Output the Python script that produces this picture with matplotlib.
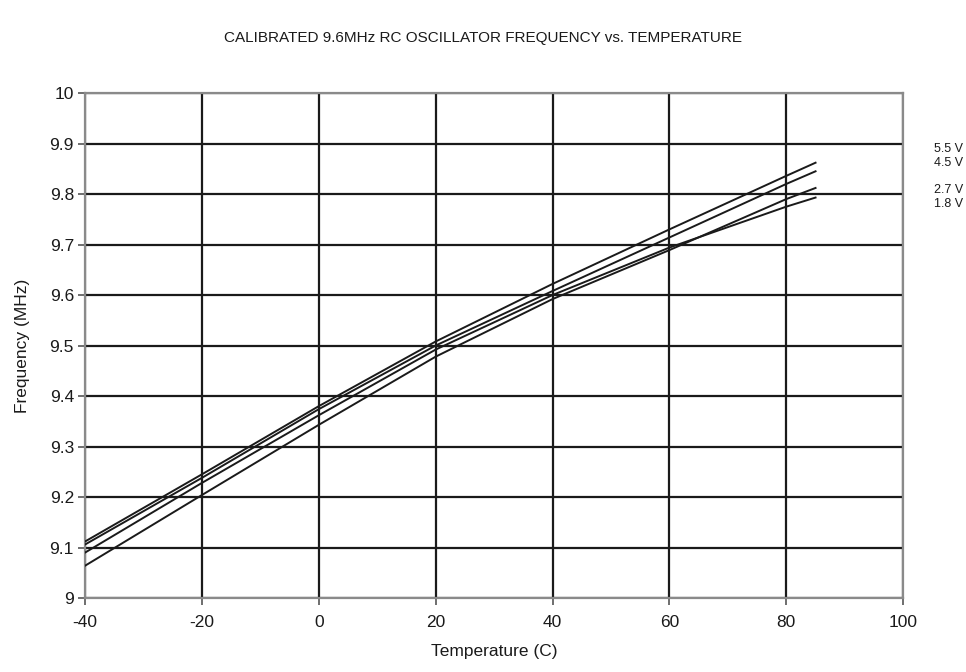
import matplotlib

matplotlib.use("Agg")
import matplotlib.pyplot as plt  # noqa: E402

plt.rcParams["font.family"] = ["Liberation Sans", "DejaVu Sans"]
plt.rcParams["axes.unicode_minus"] = False

# temperature (C) and frequency (MHz)
temps = [-40, -20, 0, 20, 40, 60, 80, 85]
f_55v = [9.112, 9.245, 9.380, 9.508, 9.622, 9.730, 9.836, 9.862]
f_45v = [9.106, 9.238, 9.374, 9.500, 9.608, 9.714, 9.820, 9.845]
f_27v = [9.064, 9.204, 9.343, 9.478, 9.592, 9.689, 9.790, 9.812]
f_18v = [9.090, 9.228, 9.362, 9.492, 9.600, 9.694, 9.775, 9.793]

series = [f_55v, f_45v, f_27v, f_18v]
labels = ["5.5 V", "4.5 V", "2.7 V", "1.8 V"]
label_y = [9.889, 9.861, 9.808, 9.780]

xticks = [-40, -20, 0, 20, 40, 60, 80, 100]
yticks = [9, 9.1, 9.2, 9.3, 9.4, 9.5, 9.6, 9.7, 9.8, 9.9, 10]
ytick_labels = ["9", "9.1", "9.2", "9.3", "9.4", "9.5", "9.6", "9.7", "9.8", "9.9", "10"]

fig = plt.figure(figsize=(9.66, 6.72), dpi=100)
ax = fig.add_axes([0.088, 0.110, 0.847, 0.7516])

for vals in series:
    ax.plot(temps, vals, color="#1a1a1a", lw=1.4, zorder=3)

ax.set_xlim(-40, 100)
ax.set_ylim(9, 10)
ax.set_xticks(xticks)
ax.set_yticks(yticks)
ax.set_yticklabels(ytick_labels)
ax.grid(True, color="#1a1a1a", lw=1.6, zorder=1)
ax.set_axisbelow(True)

for sp in ax.spines.values():
    sp.set_color("#8a8a8a")
    sp.set_linewidth(1.6)
ax.tick_params(direction="out", length=5, width=1.2, color="#555555",
               labelsize=12.5, labelcolor="#1a1a1a")
ax.tick_params(axis="x", pad=7)
ax.tick_params(axis="y", pad=3)

for txt, y in zip(labels, label_y):
    ax.text(105.2, y, txt, fontsize=9, va="center", ha="left",
            color="#1a1a1a", clip_on=False)

ax.set_xlabel("Temperature (C)", fontsize=12.5, color="#1a1a1a", labelpad=10)
ax.set_ylabel("Frequency (MHz)", fontsize=12.5, color="#1a1a1a", labelpad=14)
fig.text(0.5, 1 - 38 / 672, "CALIBRATED 9.6MHz RC OSCILLATOR FREQUENCY vs. TEMPERATURE",
         fontsize=11, ha="center", va="center", color="#1a1a1a")

fig.savefig("out.png", dpi=100)
